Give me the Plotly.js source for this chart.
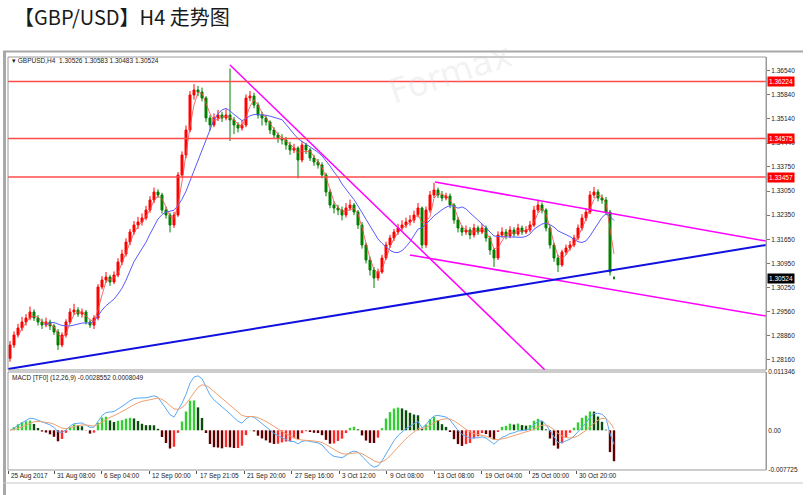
<!DOCTYPE html>
<html><head><meta charset="utf-8">
<script src="https://cdn.plot.ly/plotly-3.0.1.min.js"></script>
<style>html,body{margin:0;padding:0;background:#fff;}#chart{width:809px;height:495px;}</style>
</head><body><div id="chart"></div>
<script>
// ---- data (H4 bars, GBPUSD) ----
const openP = [1.28200,1.28585,1.28875,1.29078,1.29252,1.29368,1.29542,1.29368,1.29252,1.29165,
1.29252,1.29136,1.28962,1.28585,1.28875,1.29252,1.29542,1.29600,1.29484,1.29542,
1.29252,1.29165,1.29368,1.30267,1.30470,1.30557,1.30412,1.30615,1.30992,1.31224,
1.31572,1.31862,1.32065,1.32152,1.32268,1.32500,1.32790,1.33022,1.32935,1.32500,
1.32355,1.32065,1.32355,1.33515,1.34095,1.34820,1.35835,1.35980,1.35922,1.35748,
1.35168,1.34965,1.35168,1.35255,1.35168,1.35255,1.35110,1.34965,1.34878,1.34965,
1.35748,1.35806,1.35545,1.35255,1.35168,1.35052,1.34820,1.34675,1.34588,1.34530,
1.34385,1.34240,1.34298,1.33950,1.34385,1.34240,1.34008,1.33892,1.33805,1.33515,
1.33022,1.32645,1.32558,1.32500,1.32355,1.32558,1.32645,1.32442,1.32065,1.31485,
1.31050,1.30760,1.30528,1.30702,1.31108,1.31485,1.31688,1.31862,1.31978,1.32065,
1.32152,1.32210,1.32355,1.32558,1.31485,1.32500,1.32935,1.33080,1.32935,1.32848,
1.32906,1.32645,1.32210,1.31978,1.31862,1.31920,1.31775,1.31978,1.31862,1.31978,
1.31688,1.31340,1.31108,1.31775,1.31862,1.31746,1.31920,1.31804,1.31978,1.31862,
1.31920,1.32065,1.32500,1.32645,1.32500,1.31978,1.31485,1.31108,1.30905,1.31282,
1.31398,1.31485,1.31688,1.31978,1.32268,1.32442,1.32935,1.33022,1.32848,1.32790,
1.32442,1.30526];
const highP = [1.28700,1.28980,1.29200,1.29400,1.29480,1.29700,1.29620,1.29450,1.29350,1.29380,
1.29320,1.29200,1.29050,1.28950,1.29330,1.29650,1.29780,1.29680,1.29640,1.29600,
1.29320,1.29450,1.30350,1.30580,1.30700,1.30620,1.30720,1.31100,1.31350,1.31680,
1.31950,1.32180,1.32300,1.32400,1.32620,1.32900,1.33150,1.33100,1.33000,1.32600,
1.32420,1.32450,1.33600,1.34200,1.34950,1.35950,1.36150,1.36100,1.36050,1.35800,
1.35250,1.35300,1.35400,1.35350,1.35420,1.36600,1.35200,1.35050,1.35080,1.35850,
1.35950,1.35900,1.35620,1.35350,1.35250,1.35100,1.34900,1.34750,1.34700,1.34620,
1.34480,1.34420,1.34350,1.34500,1.34450,1.34300,1.34100,1.33980,1.33880,1.33580,
1.33100,1.32750,1.32650,1.32600,1.32700,1.32800,1.32700,1.32500,1.32150,1.31550,
1.31150,1.30850,1.30800,1.31200,1.31580,1.31780,1.31950,1.32100,1.32200,1.32280,
1.32350,1.32480,1.32700,1.32600,1.32600,1.33050,1.33290,1.33150,1.33050,1.33000,
1.32980,1.32700,1.32300,1.32050,1.32050,1.32000,1.32100,1.32050,1.32100,1.32050,
1.31750,1.31400,1.31880,1.32000,1.31950,1.32030,1.32000,1.32100,1.32050,1.32030,
1.32180,1.32620,1.32780,1.32720,1.32550,1.32050,1.31550,1.31200,1.31350,1.31500,
1.31600,1.31780,1.32080,1.32380,1.32550,1.33050,1.33170,1.33100,1.32950,1.32880,
1.32500,1.30583];
const lowP = [1.28100,1.28500,1.28800,1.28990,1.29150,1.29300,1.29280,1.29150,1.29050,1.29100,
1.29020,1.28880,1.28440,1.28520,1.28800,1.29200,1.29450,1.29400,1.29380,1.29180,
1.29080,1.29050,1.29300,1.30200,1.30380,1.30300,1.30350,1.30550,1.30900,1.31150,
1.31480,1.31780,1.31950,1.32050,1.32200,1.32420,1.32700,1.32850,1.32400,1.32250,
1.31850,1.31980,1.32300,1.33450,1.34000,1.34750,1.35700,1.35800,1.35650,1.35050,
1.34800,1.34900,1.35080,1.35050,1.35100,1.34500,1.34700,1.34750,1.34800,1.34900,
1.35650,1.35450,1.35150,1.34950,1.34950,1.34700,1.34580,1.34450,1.34400,1.34250,
1.34100,1.34150,1.33420,1.33880,1.34120,1.33920,1.33780,1.33700,1.33420,1.32900,
1.32550,1.32400,1.32350,1.32200,1.32280,1.32480,1.32350,1.31950,1.31380,1.30950,
1.30600,1.30240,1.30450,1.30650,1.31050,1.31400,1.31600,1.31780,1.31900,1.31980,
1.32050,1.32120,1.32280,1.31380,1.31400,1.32420,1.32850,1.32850,1.32750,1.32780,
1.32550,1.32100,1.31850,1.31750,1.31780,1.31650,1.31700,1.31780,1.31800,1.31580,
1.31200,1.30850,1.31050,1.31700,1.31650,1.31680,1.31720,1.31750,1.31780,1.31800,
1.31850,1.32000,1.32420,1.32400,1.31880,1.31380,1.31000,1.30700,1.30850,1.31200,
1.31320,1.31420,1.31620,1.31900,1.32180,1.32380,1.32850,1.32750,1.32680,1.32350,
1.30600,1.30483];
const closeP = [1.28585,1.28875,1.29078,1.29252,1.29368,1.29542,1.29368,1.29252,1.29165,1.29252,
1.29136,1.28962,1.28585,1.28875,1.29252,1.29542,1.29600,1.29484,1.29542,1.29252,
1.29165,1.29368,1.30267,1.30470,1.30557,1.30412,1.30615,1.30992,1.31224,1.31572,
1.31862,1.32065,1.32152,1.32268,1.32500,1.32790,1.33022,1.32935,1.32500,1.32355,
1.32065,1.32355,1.33515,1.34095,1.34820,1.35835,1.35980,1.35922,1.35748,1.35168,
1.34965,1.35168,1.35255,1.35168,1.35255,1.35110,1.34965,1.34878,1.34965,1.35748,
1.35806,1.35545,1.35255,1.35168,1.35052,1.34820,1.34675,1.34588,1.34530,1.34385,
1.34240,1.34298,1.33950,1.34385,1.34240,1.34008,1.33892,1.33805,1.33515,1.33022,
1.32645,1.32558,1.32500,1.32355,1.32558,1.32645,1.32442,1.32065,1.31485,1.31050,
1.30760,1.30528,1.30702,1.31108,1.31485,1.31688,1.31862,1.31978,1.32065,1.32152,
1.32210,1.32355,1.32558,1.31485,1.32500,1.32935,1.33080,1.32935,1.32848,1.32906,
1.32645,1.32210,1.31978,1.31862,1.31920,1.31775,1.31978,1.31862,1.31978,1.31688,
1.31340,1.31108,1.31775,1.31862,1.31746,1.31920,1.31804,1.31978,1.31862,1.31920,
1.32065,1.32500,1.32645,1.32500,1.31978,1.31485,1.31108,1.30905,1.31282,1.31398,
1.31485,1.31688,1.31978,1.32268,1.32442,1.32935,1.33022,1.32848,1.32790,1.32442,
1.30702,1.30524];

// horizontal levels (red) and current price
const levels = [1.36224, 1.34575, 1.33457];
const lastPrice = 1.30524;

// trendlines drawn on the chart: [bar index], [price]
const downLineX = [55, 133.75],  downLineY = [1.36705, 1.27860];
const chanTopX  = [106.25, 189], chanTopY  = [1.33312, 1.31601];
const chanBotX  = [100, 189],    chanBotY  = [1.31195, 1.29426];
const supportX  = [-0.5, 189],   supportY  = [1.27889, 1.31485];

// axis tick values / labels
const priceTicks = [1.36540,1.35840,1.35140,1.34440,1.33750,1.33050,1.32350,1.31650,1.30950,1.30250,1.29560,1.28860,1.28160];
const macdTicks = [0.011346, 0, -0.007725];
const macdTickText = ['0.011346', '0.00', '-0.007725'];
const timeLabels = ['25 Aug 2017','31 Aug 08:00','6 Sep 04:00','12 Sep 00:00','17 Sep 21:05','21 Sep 20:00','27 Sep 16:00','3 Oct 12:00','9 Oct 08:00','13 Oct 08:00','19 Oct 04:00','25 Oct 00:00','30 Oct 20:00'];
const timePos = [-0.5,11.08,22.75,34.75,46.68,58.58,70.43,82.25,94.18,106.08,117.93,129.75,141.5];

// ---- indicators computed from the closes ----
const idx = closeP.map((_, i) => i);
function sma(a, n){ return a.map((_, i) => { if (i < n-1) return null; let s=0; for(let k=i-n+1;k<=i;k++) s+=a[k]; return s/n; }); }
function ema(a, n){ const k=2/(n+1); const out=[]; a.forEach((v,i)=>{ out.push(i===0? v : v*k + out[i-1]*(1-k)); }); return out; }
const maSlow = sma(closeP, 10);
const maFast = sma(closeP, 3);
const e1 = ema(closeP, 6), e2 = ema(closeP, 13);
const dif = e1.map((v,i)=> v - e2[i]);
const dea = ema(dif, 6);
const hist = dif.map((v,i)=> 2*(v - dea[i]));
const histColor = hist.map((h,i)=>{
  const p = i>0 ? hist[i-1] : 0;
  if (h >= 0) return h >= p ? '#33cc33' : '#0b4d0b';
  return h < p ? '#5c0000' : '#ff2a2a';
});

const F = 'Liberation Sans, Arial, sans-serif';
const traces = [
  {type:'scatter', mode:'lines', x:idx, y:maSlow, line:{color:'#5a5aff', width:1}, hoverinfo:'skip', xaxis:'x', yaxis:'y'},
  {type:'candlestick', x:idx, open:openP, high:highP, low:lowP, close:closeP, xaxis:'x', yaxis:'y',
   increasing:{line:{color:'#ff0000', width:1}, fillcolor:'#ff0000'},
   decreasing:{line:{color:'#008000', width:1}, fillcolor:'#008000'},
   whiskerwidth:0, hoverinfo:'skip'},
  {type:'scatter', mode:'lines', x:idx, y:maFast, line:{color:'rgba(255,70,70,0.8)', width:1}, hoverinfo:'skip', xaxis:'x', yaxis:'y'},
  {type:'scatter', mode:'lines', x:downLineX, y:downLineY, line:{color:'#ff00ff', width:1.5}, hoverinfo:'skip', xaxis:'x', yaxis:'y'},
  {type:'scatter', mode:'lines', x:chanTopX, y:chanTopY, line:{color:'#ff00ff', width:1.5}, hoverinfo:'skip', xaxis:'x', yaxis:'y'},
  {type:'scatter', mode:'lines', x:chanBotX, y:chanBotY, line:{color:'#ff00ff', width:1.5}, hoverinfo:'skip', xaxis:'x', yaxis:'y'},
  {type:'scatter', mode:'lines', x:supportX, y:supportY, line:{color:'#1010e0', width:2}, hoverinfo:'skip', xaxis:'x', yaxis:'y'},
  {type:'bar', x:idx, y:hist, marker:{color:histColor, line:{width:0}}, width:0.6, hoverinfo:'skip', xaxis:'x', yaxis:'y2'},
  {type:'scatter', mode:'lines', x:idx, y:dif, line:{color:'#5aaaf5', width:1}, hoverinfo:'skip', xaxis:'x', yaxis:'y2'},
  {type:'scatter', mode:'lines', x:idx, y:dea, line:{color:'#f0a070', width:1}, hoverinfo:'skip', xaxis:'x', yaxis:'y2'}
];

const W = 758, H = 413, L = 8, T = 57;
const px = v => (v - L) / W;          // pixel x -> paper
const py = v => (T + H - v) / H;      // pixel y -> paper

const shapes = [];
levels.forEach(v => shapes.push({type:'line', xref:'paper', yref:'y', x0:0, x1:1, y0:v, y1:v, line:{color:'#ff4a4a', width:1.5}}));
// pane frames
shapes.push({type:'rect', xref:'paper', yref:'paper', x0:0, x1:1, y0:py(370), y1:1, line:{color:'#9a9a9a', width:1}});
shapes.push({type:'rect', xref:'paper', yref:'paper', x0:0, x1:1, y0:0, y1:py(372), line:{color:'#9a9a9a', width:1}});
// window frame
shapes.push({type:'line', xref:'paper', yref:'paper', x0:px(3), x1:px(803), y0:py(51.5), y1:py(51.5), line:{color:'#a8a8a8', width:2}});
shapes.push({type:'line', xref:'paper', yref:'paper', x0:px(4.5), x1:px(4.5), y0:py(51), y1:py(495), line:{color:'#a8a8a8', width:3}});
shapes.push({type:'line', xref:'paper', yref:'paper', x0:px(3), x1:px(803), y0:py(483), y1:py(483), line:{color:'#c8c8c8', width:1}});

const annotations = [];
annotations.push({xref:'paper', yref:'paper', x:px(10), y:py(60.5), xanchor:'left', yanchor:'middle', showarrow:false,
  text:'▾ GBPUSD,H4  1.30526 1.30583 1.30483 1.30524', font:{family:F, size:6.5, color:'#222'}});
annotations.push({xref:'paper', yref:'paper', x:px(10), y:py(377.5), xanchor:'left', yanchor:'middle', showarrow:false,
  text:'MACD [TF0] (12,26,9) -0.0028552 0.0008049', font:{family:F, size:6.5, color:'#222'}});
timeLabels.forEach((t, i) => annotations.push({xref:'x', yref:'paper', x:timePos[i], y:py(476), xanchor:'left', yanchor:'middle', xshift:1,
  showarrow:false, text:t, font:{family:F, size:6.5, color:'#222'}}));
levels.forEach(v => annotations.push({xref:'paper', yref:'y', x:1, y:v, xanchor:'left', yanchor:'middle', xshift:1, showarrow:false,
  text:v.toFixed(5), bgcolor:'#ff0000', font:{family:F, size:6.5, color:'#fff'}, borderpad:1}));
annotations.push({xref:'paper', yref:'y', x:1, y:lastPrice, xanchor:'left', yanchor:'middle', xshift:1, showarrow:false,
  text:lastPrice.toFixed(5), bgcolor:'#000', font:{family:F, size:6.5, color:'#fff'}, borderpad:1});
// faint watermark
annotations.push({xref:'paper', yref:'paper', x:px(450), y:py(32), showarrow:false, text:'Formax', textangle:-18,
  font:{family:'DejaVu Sans, sans-serif', size:34, color:'rgba(200,200,200,0.22)'}});

const layout = {
  width:809, height:495,
  margin:{l:L, r:809-L-W, t:T, b:495-T-H, pad:0},
  paper_bgcolor:'#ffffff', plot_bgcolor:'#ffffff',
  showlegend:false,
  title:{text:'【GBP/USD】H4 走势图', x:14/809, xanchor:'left', y:1-18/495, yanchor:'middle',
    font:{family:'Noto Sans CJK SC, Noto Sans, sans-serif', size:20, color:'#1a1a1a'}},
  xaxis:{type:'linear', range:[-0.5, 189], anchor:'y2', showgrid:false, zeroline:false, showline:false,
    tickmode:'array', tickvals:timePos, ticks:'outside', ticklen:3, tickcolor:'#555', showticklabels:false,
    rangeslider:{visible:false}, fixedrange:true},
  yaxis:{domain:[py(370), 1], range:[1.2786, 1.36937], side:'right', showgrid:false, zeroline:false,
    showline:true, linecolor:'#9a9a9a', mirror:false, ticks:'outside', ticklen:3, tickcolor:'#777',
    tickmode:'array', tickvals:priceTicks, ticktext:priceTicks.map(v=>v.toFixed(5)),
    tickfont:{family:F, size:6.5, color:'#222'}},
  yaxis2:{domain:[0, py(372)], range:[-0.007725, 0.011346], side:'right', anchor:'x', showgrid:false, zeroline:false,
    showline:true, linecolor:'#9a9a9a', ticks:'', tickmode:'array', tickvals:macdTicks, ticktext:macdTickText,
    tickfont:{family:F, size:6.5, color:'#222'}},
  bargap:0.3,
  shapes:shapes, annotations:annotations
};

Plotly.newPlot('chart', traces, layout, {displayModeBar:false, staticPlot:true});
</script>
</body></html>
